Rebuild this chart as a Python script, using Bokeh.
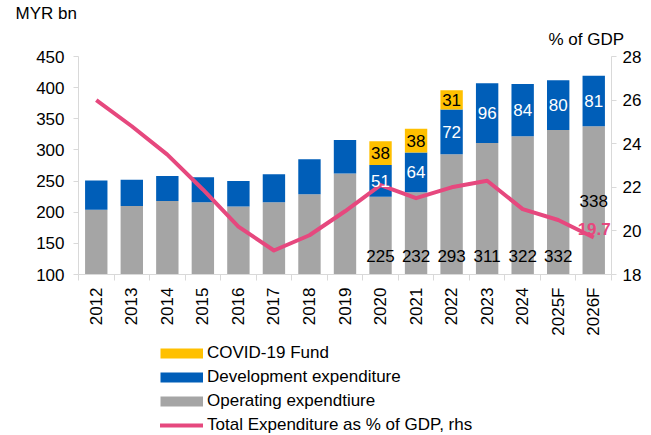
import math
from bokeh.plotting import figure
from bokeh.layouts import column
from bokeh.models import (ColumnDataSource, Range1d, LinearAxis,
                          FixedTicker, Legend, LegendItem, Title)
from bokeh.core.properties import value
from bokeh.embed import file_html
from bokeh.resources import INLINE

# ---- data ----
years = ["2012", "2013", "2014", "2015", "2016", "2017", "2018", "2019",
         "2020", "2021", "2022", "2023", "2024", "2025F", "2026F"]
operating = [204, 210, 218, 216, 209, 216, 229, 262, 225, 232, 293, 311, 322, 332, 338]
development = [47, 42, 40, 40, 41, 45, 56, 54, 51, 64, 72, 96, 84, 80, 81]
covid = [0, 0, 0, 0, 0, 0, 0, 0, 38, 38, 31, 0, 0, 0, 0]
pct_gdp = [26.0, 24.8, 23.5, 21.9, 20.2, 19.1, 19.8, 20.9, 22.1, 21.5, 22.0, 22.3, 21.0, 20.5, 19.7]
left_ticks = [100, 150, 200, 250, 300, 350, 400, 450]
right_ticks = [18, 20, 22, 24, 26, 28]
axis_titles = ["MYR bn", "% of GDP"]
legend_labels = ["COVID-19 Fund", "Development expenditure", "Operating expendtiure",
                 "Total Expenditure as % of GDP, rhs"]
labelled_from = "2020"

GRAY = "#A5A5A5"
BLUE = "#005EB8"
YELLOW = "#FFC000"
PINK = "#E6487E"
FONT_NAME = "Liberation Sans"
FONT = value(FONT_NAME)
FS = "17px"
AXIS_GRAY = "#D9D9D9"
W = 651

n = len(years)
xc = [i + 0.5 for i in range(n)]  # category centres on a 0..n scale
src = ColumnDataSource(dict(x=xc, op=operating, dev=development, cov=covid, pct=pct_gdp))

p = figure(width=W, height=340, output_backend="svg", toolbar_location=None,
           x_range=Range1d(0, n), y_range=Range1d(100, 450),
           x_axis_location=None, y_axis_location=None,
           min_border_left=78, min_border_right=40, min_border_top=55, min_border_bottom=66)
p.outline_line_color = None
p.xgrid.visible = False
p.ygrid.visible = False
p.extra_y_ranges = {"pct": Range1d(18, 28)}

def style_axis(ax):
    ax.axis_line_color = AXIS_GRAY
    ax.major_tick_line_color = AXIS_GRAY
    ax.minor_tick_line_color = None
    ax.major_tick_in = 0
    ax.major_tick_out = 5
    ax.major_label_text_font = FONT_NAME
    ax.major_label_text_font_size = FS
    ax.major_label_text_color = "black"

la = LinearAxis(ticker=FixedTicker(ticks=left_ticks))
style_axis(la)
la.major_label_standoff = 9
p.add_layout(la, "left")

ra = LinearAxis(y_range_name="pct", ticker=FixedTicker(ticks=right_ticks))
style_axis(ra)
ra.major_label_standoff = 6
p.add_layout(ra, "right")

# category axis: labels at centres, tick marks at boundaries (minor ticks)
ca = LinearAxis(ticker=FixedTicker(ticks=xc, minor_ticks=list(range(n + 1))),
                major_label_overrides={c: y for c, y in zip(xc, years)})
style_axis(ca)
ca.major_tick_line_color = None
ca.major_tick_out = 6
ca.minor_tick_line_color = AXIS_GRAY
ca.minor_tick_in = 0
ca.minor_tick_out = 6
ca.major_label_standoff = 7
ca.major_label_orientation = math.pi / 2
p.add_layout(ca, "below")

# axis titles
p.add_layout(Title(text=axis_titles[1], align="left", offset=470, standoff=12,
                   vertical_align="top", text_font=FONT_NAME, text_font_size=FS,
                   text_font_style="normal", text_color="black"), "above")
p.add_layout(Title(text=axis_titles[0], align="left", offset=-63, standoff=2,
                   text_font=FONT_NAME, text_font_size=FS,
                   text_font_style="normal", text_color="black"), "above")

# bars
p.vbar_stack(["op", "dev", "cov"], x="x", width=0.63, source=src,
             color=[GRAY, BLUE, YELLOW], line_color=None)

# line
p.line(x="x", y="pct", source=src, y_range_name="pct", line_color=PINK,
       line_width=4, line_join="round")

# data labels
i0 = years.index(labelled_from)
sub = list(range(i0, n))
op_lab_y = [130] * (len(sub) - 1) + [218]
lab_src = ColumnDataSource(dict(
    x=[xc[i] for i in sub],
    op_t=[str(operating[i]) for i in sub],
    op_y=op_lab_y,
    dev_t=[str(development[i]) for i in sub],
    dev_y=[operating[i] + development[i] / 2 for i in sub],
))
cov_idx = [i for i in sub if covid[i] > 0]
cov_src = ColumnDataSource(dict(
    x=[xc[i] for i in cov_idx],
    t=[str(covid[i]) for i in cov_idx],
    y=[operating[i] + development[i] + covid[i] / 2 for i in cov_idx],
))
common = dict(text_font=FONT, text_font_size=FS, text_baseline="middle")
p.text(x="x", y="op_y", text="op_t", source=lab_src, text_color="black",
       text_align="center", **common)
p.text(x="x", y="dev_y", text="dev_t", source=lab_src, text_color="white",
       text_align="center", **common)
p.text(x="x", y="y", text="t", source=cov_src, text_color="black",
       text_align="center", **common)

last_src = ColumnDataSource(dict(x=[xc[-1]], y=[pct_gdp[-1]], t=[f"{pct_gdp[-1]:.1f}"]))
p.text(x="x", y="y", text="t", source=last_src, y_range_name="pct", text_color=PINK,
       text_font_style="bold", text_align="right", x_offset=17, y_offset=-8, **common)

# ---- footer figure holding the legend inside its own frame ----
foot = figure(width=W, height=95, output_backend="svg", toolbar_location=None,
              x_range=Range1d(0, 1), y_range=Range1d(0, 1),
              x_axis_location=None, y_axis_location=None,
              min_border_left=78, min_border_right=40, min_border_top=0, min_border_bottom=0)
foot.outline_line_color = None
foot.xgrid.visible = False
foot.ygrid.visible = False
swatch_colors = [YELLOW, BLUE, GRAY, PINK]
swatch_widths = [10, 10, 10, 4]
items = []
for lab, col, lw in zip(legend_labels, swatch_colors, swatch_widths):
    # one undrawable (NaN) point: the renderer exists only to give the legend its swatch
    r = foot.line(x=[float("nan")], y=[float("nan")], line_color=col, line_width=lw,
                  line_cap="butt" if lw > 5 else "round")
    items.append(LegendItem(label=lab, renderers=[r]))
legend = Legend(items=items, location=(82, 0), orientation="vertical",
                glyph_width=43, glyph_height=16, label_height=16, spacing=4,
                label_standoff=4, padding=0, margin=0,
                border_line_color=None, background_fill_alpha=0,
                label_text_font=FONT_NAME, label_text_font_size=FS,
                label_text_color="black")
foot.add_layout(legend, "center")

layout = column(p, foot, spacing=0)
open("out.html", "w").write(file_html(layout, INLINE))
